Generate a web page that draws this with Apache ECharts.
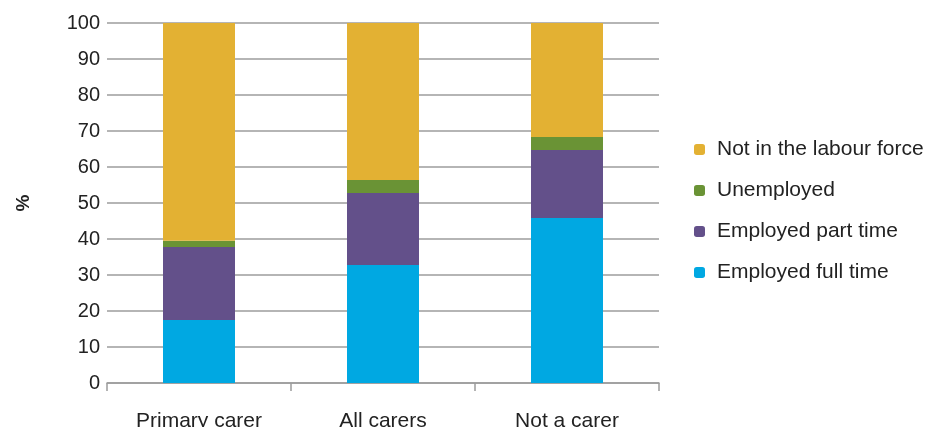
<!DOCTYPE html>
<html>
<head>
<meta charset="utf-8">
<script src="https://cdn.jsdelivr.net/npm/echarts@6/dist/echarts.min.js"></script>
<style>
  html, body { margin: 0; padding: 0; background: #fff; }
  #chart { width: 928px; height: 427px; }
</style>
</head>
<body>
<div id="chart"></div>
<script>
// Labour force status by caring role (%)
const categories = ['Primary carer', 'All carers', 'Not a carer'];
const employedFullTime = [17.5, 32.8, 45.8];
const employedPartTime = [20.3, 20.0, 18.9];
const unemployed = [1.7, 3.6, 3.6];
const notInLabourForce = [60.5, 43.6, 31.7];
const yTicks = [0, 10, 20, 30, 40, 50, 60, 70, 80, 90, 100];

const FONT = '"Liberation Sans", Arial, Helvetica, sans-serif';
const GRID_GREY = '#9c9c9c';
const TEXT = '#222';

const chart = echarts.init(document.getElementById('chart'), null, { renderer: 'canvas' });

function barSeries(name, data, color) {
  return {
    name: name,
    type: 'bar',
    stack: 'status',
    data: data,
    barWidth: 72,
    itemStyle: { color: color },
    emphasis: { disabled: true }
  };
}

chart.setOption({
  animation: false,
  textStyle: { fontFamily: FONT },
  // fixed plot rectangle; labels are allowed to run to the canvas edge
  grid: { left: 107, right: 269, top: 23, bottom: 44, containLabel: false, outerBoundsMode: 'none' },
  legend: {
    orient: 'vertical',
    left: 694,
    top: 139,
    padding: 0,
    itemWidth: 11,
    itemHeight: 11,
    itemGap: 20,
    selectedMode: false,
    data: ['Not in the labour force', 'Unemployed', 'Employed part time', 'Employed full time'],
    textStyle: { fontFamily: FONT, fontSize: 21, lineHeight: 21, color: TEXT, padding: [0, 0, 0, 7] }
  },
  xAxis: {
    type: 'category',
    data: categories,
    axisLine: { show: true, lineStyle: { color: GRID_GREY, width: 1.5 } },
    axisTick: { show: true, length: 8, lineStyle: { color: GRID_GREY, width: 1.5 } },
    axisLabel: { fontFamily: FONT, fontSize: 21, color: TEXT, margin: 28 }
  },
  yAxis: {
    type: 'value',
    min: yTicks[0],
    max: yTicks[yTicks.length - 1],
    interval: yTicks[1] - yTicks[0],
    name: '%',
    nameLocation: 'middle',
    nameRotate: 90,
    nameGap: 74,
    nameTextStyle: { fontFamily: FONT, fontSize: 19, fontWeight: 'bold', color: TEXT },
    axisLine: { show: false },
    axisTick: { show: false },
    axisLabel: { fontFamily: FONT, fontSize: 20, color: TEXT, margin: 7 },
    splitLine: { show: true, lineStyle: { color: GRID_GREY, width: 1.5 } }
  },
  series: [
    barSeries('Employed full time', employedFullTime, '#00A8E2'),
    barSeries('Employed part time', employedPartTime, '#63508A'),
    barSeries('Unemployed', unemployed, '#6A9335'),
    barSeries('Not in the labour force', notInLabourForce, '#E3B133')
  ]
});
</script>
</body>
</html>
